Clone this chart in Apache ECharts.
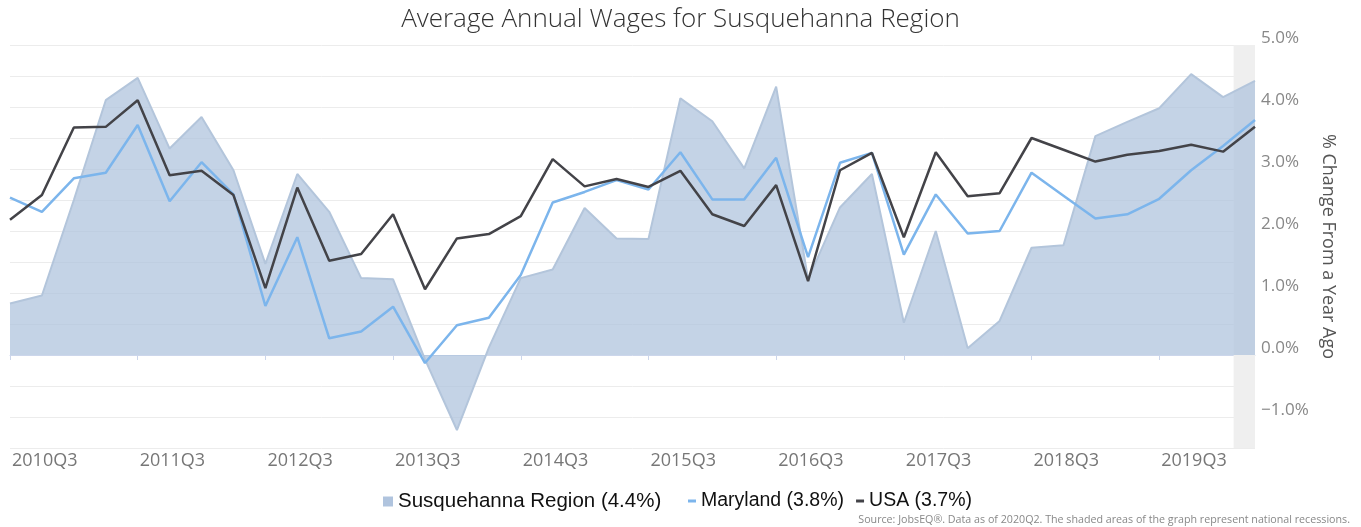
<!DOCTYPE html>
<html>
<head>
<meta charset="utf-8">
<script src="https://cdn.jsdelivr.net/npm/echarts@6/dist/echarts.min.js"></script>
<style>
html,body{margin:0;padding:0;background:#fff;}
#chart{width:1361px;height:527px;}
</style>
</head>
<body>
<div id="chart"></div>
<script>
const categories = ['2010Q3','2010Q4','2011Q1','2011Q2','2011Q3','2011Q4','2012Q1','2012Q2','2012Q3','2012Q4',
  '2013Q1','2013Q2','2013Q3','2013Q4','2014Q1','2014Q2','2014Q3','2014Q4','2015Q1','2015Q2',
  '2015Q3','2015Q4','2016Q1','2016Q2','2016Q3','2016Q4','2017Q1','2017Q2','2017Q3','2017Q4',
  '2018Q1','2018Q2','2018Q3','2018Q4','2019Q1','2019Q2','2019Q3','2019Q4','2020Q1','2020Q2'];

const susquehanna = [0.83,0.96,2.5,4.11,4.47,3.33,3.84,2.98,1.47,2.92,
  2.31,1.24,1.22,-0.07,-1.21,0.12,1.24,1.38,2.37,1.88,
  1.87,4.14,3.77,3.01,4.33,1.22,2.38,2.92,0.52,2.0,
  0.11,0.55,1.73,1.77,3.53,3.76,3.98,4.53,4.16,4.42];

const maryland = [2.54,2.31,2.85,2.94,3.71,2.48,3.11,2.59,0.79,1.90,
  0.27,0.38,0.78,-0.13,0.48,0.60,1.29,2.46,2.63,2.82,
  2.67,3.27,2.51,2.51,3.18,1.58,3.10,3.26,1.62,2.59,
  1.96,2.0,2.94,2.57,2.20,2.27,2.52,2.98,3.37,3.79];

const usa = [2.18,2.58,3.67,3.68,4.11,2.90,2.97,2.58,1.08,2.70,
  1.52,1.63,2.27,1.06,1.88,1.95,2.24,3.16,2.72,2.84,
  2.71,2.97,2.27,2.08,2.74,1.19,2.98,3.26,1.90,3.27,
  2.56,2.61,3.50,3.31,3.12,3.23,3.29,3.39,3.28,3.68];

const seriesNames = ['Susquehanna Region (4.4%)','Maryland (3.8%)','USA (3.7%)'];
// recession: starts Feb 2020 (one third into the 2020Q1 -> 2020Q2 span), ends at last point
const recessionStart = 38.33;
const recessionEnd = 39;

const chart = echarts.init(document.getElementById('chart'), null, {renderer:'canvas'});
const yFmt = v => {
  if (Math.abs(v - Math.round(v)) > 1e-6) return '';
  const r = Math.round(v);
  return (r < 0 ? '\u2212' : '') + Math.abs(r).toFixed(1) + '%';
};
chart.setOption({
  animation:false,
  backgroundColor:'#ffffff',
  title:{
    text:'Average Annual Wages for Susquehanna Region',
    left:'center', top:2,
    textStyle:{fontFamily:'Open Sans', fontWeight:300, fontSize:26, color:'#333333'}
  },
  legend:[{
    data:[{name:seriesNames[0], icon:'rect'}],
    left:381, top:486,
    itemWidth:10, itemHeight:10, itemGap:12, padding:[5,5,5,2],
    textStyle:{fontFamily:'Liberation Sans, Arial', fontSize:20.5, color:'#111'},
    selectedMode:false
  },{
    data:[{name:seriesNames[1], icon:'rect'},{name:seriesNames[2], icon:'rect'}],
    left:683, top:486,
    itemWidth:8, itemHeight:3, itemGap:12,
    textStyle:{fontFamily:'Liberation Sans, Arial', fontSize:19.5, color:'#111'},
    selectedMode:false
  }],
  grid:{left:10, right:106, top:45, bottom:79, containLabel:false},
  xAxis:[{
    type:'category', data:categories, boundaryGap:false,
    axisLine:{lineStyle:{color:'#ccd6eb', width:1}},
    axisTick:{interval:3, length:5, lineStyle:{color:'#ccd6eb'}},
    axisLabel:{interval:3, align:'left', margin:4, padding:[0,0,0,2], fontFamily:'Open Sans', fontSize:18, color:'#777777'},
    splitLine:{show:false}
  },{
    type:'value', min:0, max:39, show:false
  }],
  yAxis:{
    type:'value', position:'right', min:-1.5, max:5, interval:0.5,
    axisLine:{show:false}, axisTick:{show:false},
    splitLine:{lineStyle:{color:'#ececec', width:1}},
    axisLabel:{formatter:yFmt, margin:6, fontFamily:'Open Sans', fontSize:17, color:'#888888', verticalAlign:'bottom', lineHeight:14},
    name:'% Change From a Year Ago', nameLocation:'middle', nameRotate:-90, nameGap:48,
    nameTextStyle:{fontFamily:'Open Sans', fontSize:18, color:'#555555'}
  },
  series:[{
    type:'line', xAxisIndex:1, data:[], silent:true, z:0,
    markArea:{silent:true, itemStyle:{color:'#efefef'},
      data:[[{xAxis:recessionStart, yAxis:5},{xAxis:recessionEnd, yAxis:-1.5}]]}
  },{
    name:seriesNames[0], type:'line', data:susquehanna, showSymbol:false, z:2,
    color:'#b0c4de',
    lineStyle:{color:'#b3c5db', width:2},
    areaStyle:{color:'#b0c4de', opacity:0.75, origin:0}
  },{
    name:seriesNames[1], type:'line', data:maryland, showSymbol:false, z:3,
    color:'#7cb5ec', lineStyle:{color:'#7cb5ec', width:2.5}
  },{
    name:seriesNames[2], type:'line', data:usa, showSymbol:false, z:4,
    color:'#434348', lineStyle:{color:'#434348', width:2.5}
  }],
  graphic:[{
    type:'text', right:11, top:514,
    style:{text:'Source: JobsEQ\u00AE. Data as of 2020Q2. The shaded areas of the graph represent national recessions.',
      fontFamily:'Open Sans', fontSize:10.7, fill:'#888888'}
  }]
});
</script>
</body>
</html>
